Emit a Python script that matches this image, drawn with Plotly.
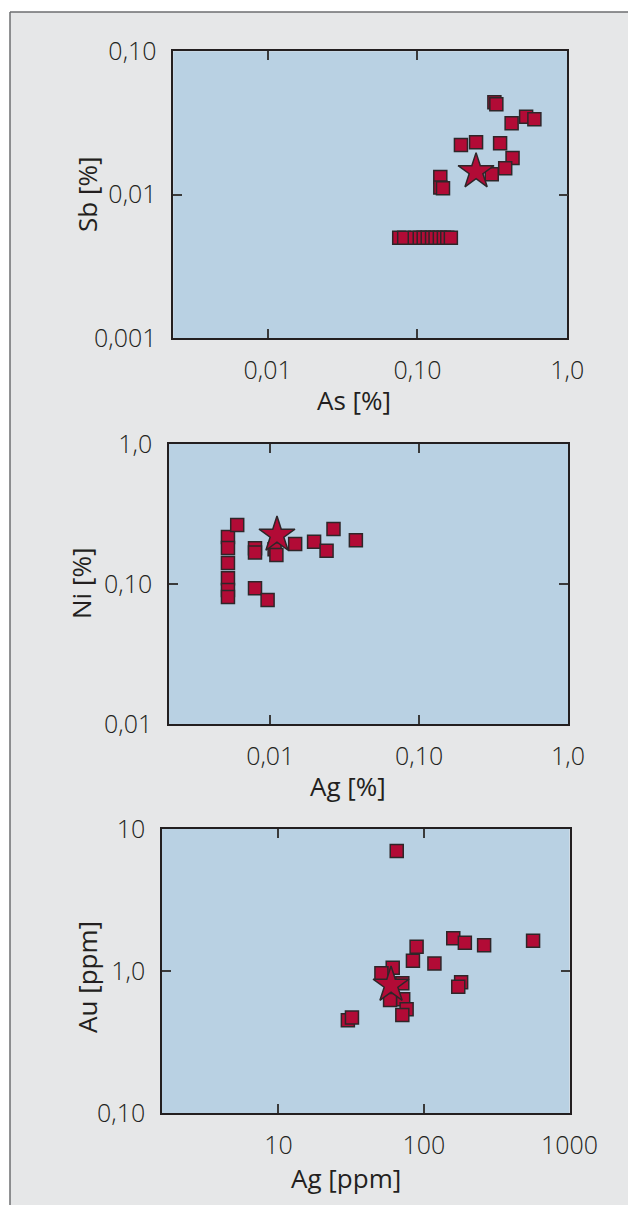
import plotly.graph_objects as go

W, H = 628, 1205

# --- Panel 1: As [%] vs Sb [%] ---
as_pct = [0.326, 0.336, 0.425, 0.531, 0.603, 0.195, 0.246, 0.356, 0.431, 0.385,
          0.313, 0.142, 0.142, 0.148,
          0.0755, 0.0815, 0.0959, 0.1035, 0.110, 0.117, 0.125, 0.132, 0.141,
          0.150, 0.158, 0.167]
sb_pct = [0.0441, 0.0427, 0.0315, 0.035, 0.0336, 0.0222, 0.0232, 0.0228, 0.0180,
          0.0153, 0.0139, 0.0133, 0.0112, 0.0111,
          0.005, 0.005, 0.005, 0.005, 0.005, 0.005, 0.005, 0.005, 0.005,
          0.005, 0.005, 0.005]
as_star = [0.246]
sb_star = [0.0145]

# --- Panel 2: Ag [%] vs Ni [%] ---
ag_pct = [0.0052, 0.0052, 0.0052, 0.0052, 0.0052, 0.0052,
          0.0060, 0.0079, 0.0079, 0.0107, 0.0110, 0.0147, 0.0197, 0.0239,
          0.0266, 0.0376, 0.0079, 0.0096]
ni_pct = [0.217, 0.181, 0.141, 0.110, 0.0906, 0.0807,
          0.264, 0.180, 0.168, 0.177, 0.161, 0.193, 0.2005, 0.173,
          0.247, 0.205, 0.0932, 0.0769]
ag_star_pct = [0.0111]
ni_star = [0.224]

# --- Panel 3: Ag [ppm] vs Au [ppm] ---
ag_ppm = [159, 191, 259, 562, 89, 84, 118, 180, 172, 61, 51, 71, 58.5, 72,
          76, 71, 65, 30, 32]
au_ppm = [1.70, 1.58, 1.52, 1.63, 1.48, 1.18, 1.13, 0.832, 0.776, 1.055, 0.963,
          0.819, 0.625, 0.632, 0.537, 0.49, 7.0, 0.45, 0.47]
ag_star_ppm = [59.4]
au_star = [0.797]

# Tick labels (decimal comma)
p1_xticks, p1_xtext = [0.01, 0.1, 1.0], ["0,01", "0,10", "1,0"]
p1_yticks, p1_ytext = [0.001, 0.01, 0.1], ["0,001", "0,01", "0,10"]
p2_xticks, p2_xtext = [0.01, 0.1, 1.0], ["0,01", "0,10", "1,0"]
p2_yticks, p2_ytext = [0.01, 0.1, 1.0], ["0,01", "0,10", "1,0"]
p3_xticks, p3_xtext = [10, 100, 1000], ["10", "100", "1000"]
p3_yticks, p3_ytext = [0.1, 1.0, 10], ["0,10", "1,0", "10"]

# Styling
FONT = "Open Sans"
TXT = "#231f20"
FILL = "#b20b36"
EDGE = "#2e2629"
PLOT_BG = "#b9d1e3"
FRAME_BG = "#e6e7e8"


def px_x(px):
    return px / W


def px_y(py):
    return 1 - py / H


# panel boxes in pixels: left, right, top, bottom
boxes = [
    (173.3, 567.3, 51.3, 338.0),
    (169.0, 568.0, 444.0, 724.0),
    (162.0, 569.5, 829.0, 1113.0),
]
xranges = [[-2.63, 0.0], [-2.68, 0.0], [0.2, 3.0]]
yranges = [[-3, -1], [-2, 0], [-1, 1]]

fig = go.Figure()

panels = [
    (as_pct, sb_pct, as_star, sb_star),
    (ag_pct, ni_pct, ag_star_pct, ni_star),
    (ag_ppm, au_ppm, ag_star_ppm, au_star),
]

for i, (xs, ys, sx, sy) in enumerate(panels):
    xa = "x" if i == 0 else f"x{i+1}"
    ya = "y" if i == 0 else f"y{i+1}"
    fig.add_trace(go.Scatter(
        x=xs, y=ys, mode="markers", xaxis=xa, yaxis=ya,
        marker=dict(symbol="square", size=13, color=FILL,
                    line=dict(color=EDGE, width=1.5)),
        showlegend=False, hoverinfo="skip"))
    fig.add_trace(go.Scatter(
        x=sx, y=sy, mode="markers", xaxis=xa, yaxis=ya,
        marker=dict(symbol="star", size=27, color=FILL,
                    line=dict(color=EDGE, width=1.5)),
        showlegend=False, hoverinfo="skip"))

xticks = [(p1_xticks, p1_xtext), (p2_xticks, p2_xtext), (p3_xticks, p3_xtext)]
yticks = [(p1_yticks, p1_ytext), (p2_yticks, p2_ytext), (p3_yticks, p3_ytext)]

layout = dict(
    width=W, height=H, autosize=False,
    margin=dict(l=0, r=0, t=0, b=0, pad=0, autoexpand=False),
    paper_bgcolor=FRAME_BG, plot_bgcolor=PLOT_BG,
    font=dict(family=FONT, color=TXT, size=25),
)

for i in range(3):
    l, r, t, b = boxes[i]
    xk = "xaxis" if i == 0 else f"xaxis{i+1}"
    yk = "yaxis" if i == 0 else f"yaxis{i+1}"
    ax_common = dict(
        type="log", showgrid=False, zeroline=False, automargin=False,
        showline=True, linecolor=TXT, linewidth=1.5, mirror="ticks",
        ticks="inside", ticklen=9, tickwidth=1.5, tickcolor="#3a3a3a",
        tickfont=dict(family=FONT, size=25, color=TXT, weight=300),
    )
    layout[xk] = dict(
        ax_common, domain=[px_x(l), px_x(r)], range=xranges[i],
        tickvals=xticks[i][0], ticktext=xticks[i][1],
        anchor="y" if i == 0 else f"y{i+1}", ticklabelstandoff=9,
    )
    layout[yk] = dict(
        ax_common, domain=[px_y(b), px_y(t)], range=yranges[i],
        tickvals=yticks[i][0], ticktext=yticks[i][1],
        anchor="x" if i == 0 else f"x{i+1}", ticklabelstandoff=10,
    )

fig.update_layout(**layout)

# Axis titles
titles = [
    ("As [%]", 354, 400, 0),
    ("Ag [%]", 348, 786, 0),
    ("Ag [ppm]", 346, 1178, 0),
    ("Sb [%]", 87, 195, -90),
    ("Ni [%]", 81, 584, -90),
    ("Au [ppm]", 87, 977, -90),
]
for text, x, y, ang in titles:
    fig.add_annotation(
        text=text, x=px_x(x), y=px_y(y), xref="paper", yref="paper",
        xanchor="center", yanchor="middle", showarrow=False, textangle=ang,
        font=dict(family=FONT, size=26, color=TXT),
    )

# Outer frame: white strip outside, thin border along left and top
fig.add_shape(type="rect", xref="paper", yref="paper",
              x0=0, x1=px_x(10), y0=0, y1=1, fillcolor="white",
              line=dict(width=0))
fig.add_shape(type="rect", xref="paper", yref="paper",
              x0=0, x1=1, y0=px_y(12), y1=1, fillcolor="white",
              line=dict(width=0))
fig.add_shape(type="line", xref="paper", yref="paper",
              x0=px_x(10), x1=px_x(10), y0=0, y1=px_y(12),
              line=dict(color="#6d6e71", width=1.5))
fig.add_shape(type="line", xref="paper", yref="paper",
              x0=px_x(10), x1=1, y0=px_y(12), y1=px_y(12),
              line=dict(color="#6d6e71", width=1.5))

# keep the page itself flush with the figure
page_css = ("document.documentElement.style.margin='0';"
            "document.body.style.margin='0';"
            "document.body.style.overflow='hidden';")

fig.write_html("out.html", post_script=page_css)
